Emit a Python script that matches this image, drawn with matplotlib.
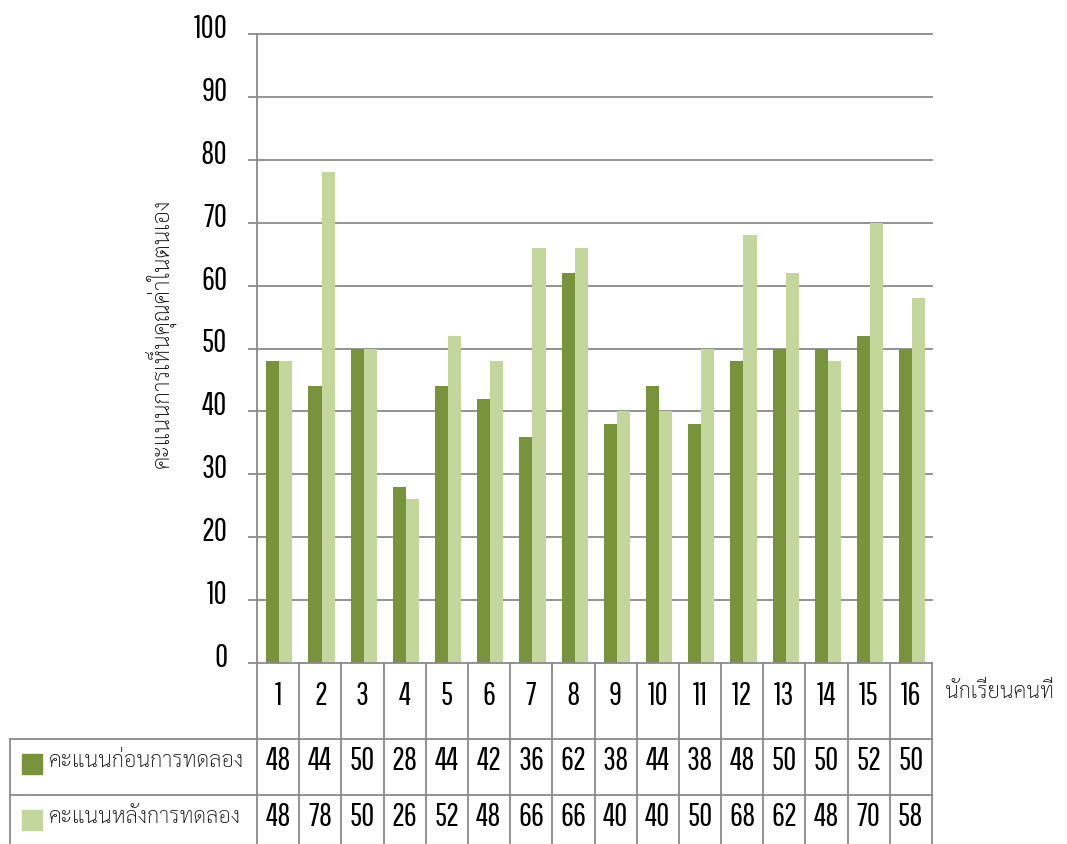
import matplotlib
matplotlib.use("Agg")
import matplotlib.pyplot as plt
import matplotlib.transforms as mtransforms
from matplotlib.lines import Line2D
from matplotlib.patches import Rectangle
import numpy as np

# scores per student
students = [str(i) for i in range(1, 17)]
before = [48, 44, 50, 28, 44, 42, 36, 62, 38, 44, 38, 48, 50, 50, 52, 50]
after = [48, 78, 50, 26, 52, 48, 66, 66, 40, 40, 50, 68, 62, 48, 70, 58]
series_names = ["คะแนนก่อนการทดลอง", "คะแนนหลังการทดลอง"]
y_label = "คะแนนการเห็นคุณค่าในตนเอง"
x_label = "นักเรียนคนที่"
y_ticks = [0, 10, 20, 30, 40, 50, 60, 70, 80, 90, 100]

dark = "#77933C"
light = "#C3D69B"
line_gray = "#8A8A8A"
num_font = ["Pathway Gothic One", "Antonio", "DejaVu Sans"]
thai_font = ["Sarabun", "Noto Sans Thai Looped", "IBM Plex Sans Thai Looped", "DejaVu Sans"]

W, H = 1067, 845
fig = plt.figure(figsize=(W / 100, H / 100), dpi=100)

def fx(px):
    return px / W

def fy(py):
    return 1 - py / H

ax_left, ax_right, ax_top, ax_bottom = 257, 932, 35, 664
ax = fig.add_axes([fx(ax_left), fy(ax_bottom), fx(ax_right - ax_left), fy(ax_top) - fy(ax_bottom)])

x = np.arange(len(students))
bw = 0.31
ax.bar(x - bw / 2 + 0.03, before, bw, color=dark, zorder=3)
ax.bar(x + bw / 2 + 0.03, after, bw, color=light, zorder=3)

ax.set_xlim(-0.5, len(students) - 0.5)
ax.set_ylim(0, 100)
ax.set_xticks([])
ax.set_yticks(y_ticks)
ax.set_yticklabels([])
ax.tick_params(axis="y", length=0)
for s in ["top", "right", "bottom"]:
    ax.spines[s].set_visible(False)
ax.spines["left"].set_color(line_gray)
ax.spines["left"].set_linewidth(1.3)

# gridlines run a little past the y axis on the left
label_shift = ax.transData + mtransforms.ScaledTranslation(0, 6 / 100, fig.dpi_scale_trans)
for t in y_ticks:
    ax.plot([-0.69, len(students) - 0.5], [t, t], color=line_gray, lw=1.3,
            clip_on=False, zorder=1 if t else 4)
    ax.text(-1.2, t, str(t), ha="right", va="center", fontsize=23, family=num_font,
            transform=label_shift)

ax.text(fx(160), fy(333), y_label, transform=fig.transFigure, rotation=90,
        ha="center", va="center", fontsize=16.5, family=thai_font, fontweight="light")

# data table under the axis
bt = mtransforms.blended_transform_factory(ax.transData, fig.transFigure)
for k in range(len(students) + 1):
    fig.add_artist(Line2D([k - 0.5, k - 0.5], [fy(664), fy(845)], transform=bt,
                          color=line_gray, lw=1.3))
for py in [740, 796]:
    fig.add_artist(Line2D([fx(10), fx(932)], [fy(py), fy(py)], transform=fig.transFigure,
                          color=line_gray, lw=1.3))
fig.add_artist(Line2D([fx(10), fx(10)], [fy(740), fy(845)], transform=fig.transFigure,
                      color=line_gray, lw=1.3))

for i, s in enumerate(students):
    fig.text(i, fy(696), s, transform=bt, ha="center", va="center", fontsize=23, family=num_font)
for vals, py in [(before, 761), (after, 817)]:
    for i, v in enumerate(vals):
        fig.text(i, fy(py), str(v), transform=bt, ha="center", va="center",
                 fontsize=23, family=num_font)

for name, col, py in [(series_names[0], dark, 765), (series_names[1], light, 821)]:
    fig.add_artist(Rectangle((fx(22), fy(py + 10)), fx(20), fy(py - 10) - fy(py + 10),
                             transform=fig.transFigure, color=col))
    fig.text(fx(49), fy(py - 3), name, ha="left", va="center", fontsize=15.8,
             family=thai_font, fontweight="light")

fig.text(fx(945), fy(692), x_label, ha="left", va="center", fontsize=15.8,
         family=thai_font, fontweight="light")

fig.savefig("out.png", dpi=100)
